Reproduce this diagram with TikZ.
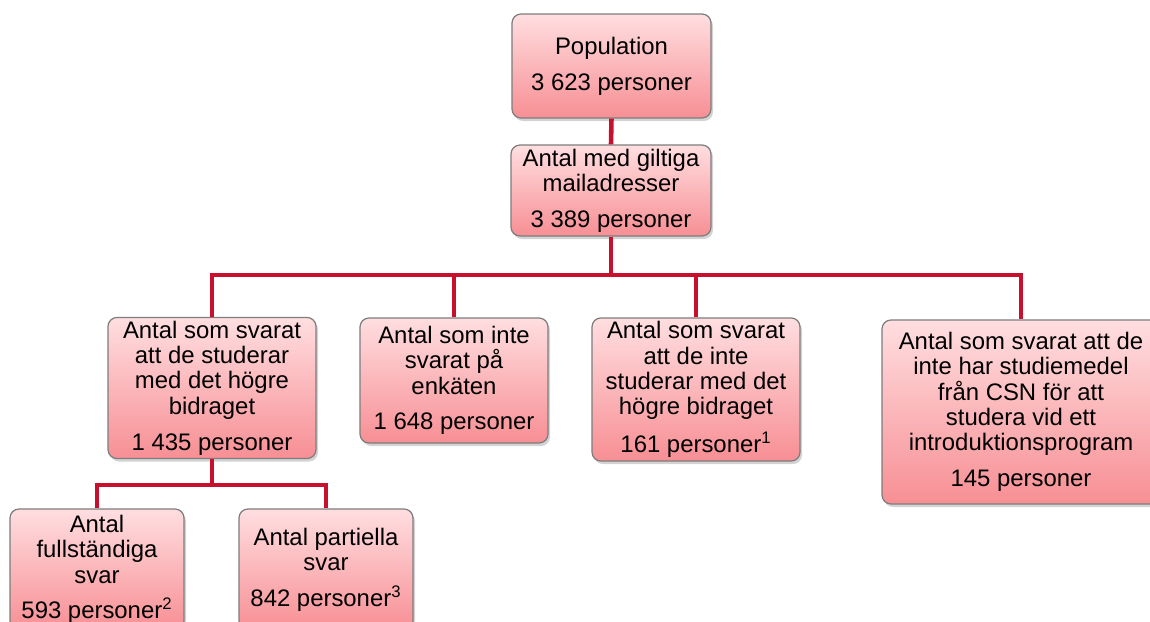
\documentclass[tikz,border=0pt]{standalone}
\usepackage{fontspec}
\setmainfont{Liberation Sans}
\usepackage{tikz}
\usetikzlibrary{shadows}

\definecolor{linjerod}{RGB}{200,16,46}
\definecolor{ramgra}{RGB}{125,125,125}
\definecolor{rosaupp}{RGB}{255,222,224}
\definecolor{rosaned}{RGB}{247,143,148}

\tikzset{
  ruta/.style={draw=ramgra, line width=0.7pt, rounded corners=0.18cm,
    top color=rosaupp, bottom color=rosaned, align=center, inner sep=2pt,
    font=\fontsize{13.6pt}{14.4pt}\selectfont,
    drop shadow={opacity=0.35, shadow xshift=0.04cm, shadow yshift=-0.06cm}},
  linje/.style={linjerod, line width=2.6pt}
}

\begin{document}
\begin{tikzpicture}
    \useasboundingbox (0cm,0cm) rectangle (23cm,-12.44cm);
    % top of the chart
    \node[ruta, minimum width=3.98cm, minimum height=2.08cm] (pop)  at (12.23cm,-1.32cm) {Population\\[6pt]3 623 personer};
    \node[ruta, minimum width=4.00cm, minimum height=1.82cm] (mail) at (12.22cm,-3.81cm) {Antal med giltiga\\mailadresser\\[6pt]3 389 personer};
    % second row
    \node[ruta, minimum width=4.16cm, minimum height=2.72cm] (svar)    at ( 4.24cm,-7.76cm) {Antal som svarat\\att de studerar\\med det högre\\bidraget\\[6pt]1 435 personer};
    \node[ruta, minimum width=3.76cm, minimum height=2.50cm] (ejsvar)  at ( 9.08cm,-7.61cm) {Antal som inte\\svarat på\\enkäten\\[6pt]1 648 personer};
    \node[ruta, minimum width=4.16cm, minimum height=2.78cm] (ejhogre) at (13.92cm,-7.79cm) {Antal som svarat\\att de inte\\studerar med det\\högre bidraget\\[6pt]161 personer\textsuperscript{1}};
    \node[ruta, minimum width=5.56cm, minimum height=3.68cm] (ejcsn)   at (20.42cm,-8.24cm) {Antal som svarat att de\\inte har studiemedel\\från CSN för att\\studera vid ett\\introduktionsprogram\\[6pt]145 personer};
    % third row
    \node[ruta, minimum width=3.48cm, minimum height=2.42cm] (full) at (1.94cm,-11.39cm) {Antal\\fullständiga\\svar\\[6pt]593 personer\textsuperscript{2}};
    \node[ruta, minimum width=3.48cm, minimum height=2.42cm] (part) at (6.52cm,-11.39cm) {Antal partiella\\svar\\[6pt]842 personer\textsuperscript{3}};
    % branch points
    \coordinate (buss)  at (12.22cm,-5.50cm);
    \coordinate (buss2) at ( 4.24cm,-9.70cm);
    \draw[linje] (pop.south) -- (mail.north);
    \draw[linje] (mail.south) -- (buss);
    \draw[linje] (svar.north) |- (buss) -| (ejcsn.north);
    \draw[linje] (ejsvar.north) |- (buss);
    \draw[linje] (ejhogre.north) |- (buss);
    \draw[linje] (svar.south) -- (buss2);
    \draw[linje] (full.north) |- (buss2) -| (part.north);
\end{tikzpicture}
\end{document}
